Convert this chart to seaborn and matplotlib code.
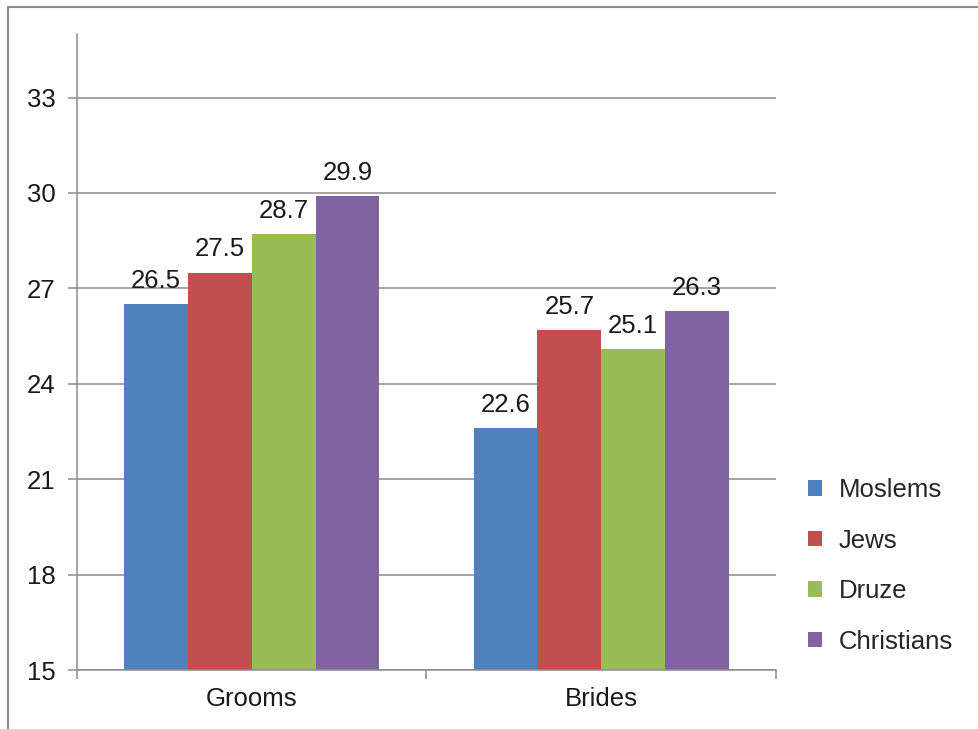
import matplotlib
matplotlib.use("Agg")
import matplotlib.pyplot as plt
import seaborn as sns
import pandas as pd
from matplotlib.patches import Rectangle, Patch

categories = ["Grooms", "Brides"]
groups = ["Moslems", "Jews", "Druze", "Christians"]
moslems = [26.5, 22.6]
jews = [27.5, 25.7]
druze = [28.7, 25.1]
christians = [29.9, 26.3]
colors = ["#4F81BD", "#C0504D", "#9BBB59", "#8064A2"]
yticks = [15, 18, 21, 24, 27, 30, 33]

rows = []
for g, vals in zip(groups, [moslems, jews, druze, christians]):
    for c, v in zip(categories, vals):
        rows.append({"category": c, "group": g, "value": v})
df = pd.DataFrame(rows)

sns.set_theme(style="white")
plt.rcParams["font.family"] = ["Liberation Sans", "DejaVu Sans"]

FS = 18.5
TXT = "#1a1a1a"
fig = plt.figure(figsize=(9.79, 7.29), dpi=100)
ax = fig.add_axes([77/979, 1-670/729, (776-77)/979, (670-34)/729])

sns.barplot(data=df, x="category", y="value", hue="group", order=categories,
            hue_order=groups, palette=colors, width=0.73, gap=0, ax=ax,
            saturation=1, legend=False, errorbar=None, edgecolor="none", linewidth=0)

ax.set_ylim(15, 35)
ax.set_xlim(-0.5, 1.5)
ax.set_yticks(yticks)
ax.set_yticklabels([str(t) for t in yticks], fontsize=FS, color=TXT)
ax.set_xlabel("")
ax.set_ylabel("")
ax.grid(axis="y", color="#8c8c8c", linewidth=1.1)
ax.set_axisbelow(True)
for s in ["top", "right"]:
    ax.spines[s].set_visible(False)
ax.spines["left"].set_color("#8c8c8c")
ax.spines["bottom"].set_color("#8c8c8c")
ax.spines["left"].set_linewidth(1.1)
ax.spines["bottom"].set_linewidth(1.1)
ax.tick_params(axis="y", which="major", length=6.5, width=1.1, color="#8c8c8c", left=True, pad=9)
ax.set_xticks([0, 1])
ax.set_xticklabels(categories, fontsize=FS, color=TXT)
ax.tick_params(axis="x", which="major", length=0, pad=12)
ax.set_xticks([-0.5, 0.5, 1.5], minor=True)
ax.tick_params(axis="x", which="minor", length=6.5, width=1.1, color="#8c8c8c", bottom=True)

for cont in ax.containers:
    ax.bar_label(cont, fmt="%.1f", padding=8, fontsize=FS, color=TXT)

handles = [Patch(facecolor=c, edgecolor="none") for c in colors]
fig.legend(handles, groups, loc="center left", bbox_to_anchor=(785/979, 1-566/729),
           frameon=False, fontsize=FS, handlelength=0.55, handleheight=0.55,
           handletextpad=0.65, labelspacing=1.03)

fig.add_artist(Rectangle((8/979, -0.01), 1.0, 1-7/729+0.01, transform=fig.transFigure,
                         fill=False, edgecolor="#8c8c8c", linewidth=1.5))

fig.savefig("out.png", dpi=100)
